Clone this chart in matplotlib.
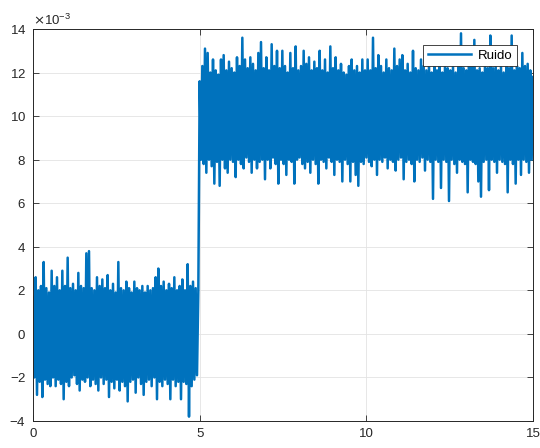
import numpy as np
import matplotlib
matplotlib.use("Agg")
import matplotlib.pyplot as plt

# muestras, en unidades de 1e-4
dt = 0.04
ruido_1 = [17, -20, 26, -28, 20, -22, 22, -29, 33, -21, 21, -23, 19, -24, 29, -20, 22, -24, 26, -21,
           20, -23, 29, -30, 22, -22, 35, -24, 21, -20, 23, -19, 20, -23, 28, -26, 22, -21, 21, -22,
           37, -20, 38, -24, 21, -21, 20, -23, 26, -26, 22, -20, 25, -23, 21, -21, 27, -29, 20, -22,
           23, -25, 19, -21, 33, -26, 21, -22, 20, -24, 24, -31, 21, -22, 19, -21, 24, -27, 21, -20,
           20, -23, 22, -28, 19, -22, 22, -21, 20, -24, 21, -20, 26, -30, 30, -22, 22, -24, 24, -21,
           20, -23, 23, -30, 21, -21, 26, -24, 20, -22, 22, -30, 25, -22, 20, -23, 32, -38, 22, -24,
           24, -21, 21, -19,
           20]
ruido_2 = [116, 80, 123, 78, 131, 74, 129, 80, 120, 77, 126, 69, 121, 79, 119, 68, 126, 80, 128, 76,
           121, 74, 125, 80, 122, 79, 120, 72, 127, 80, 123, 78, 136, 76, 126, 81, 122, 79, 127, 74,
           124, 80, 121, 76, 129, 79, 134, 80, 122, 71, 127, 80, 121, 76, 133, 81, 123, 78, 130, 69,
           122, 80, 130, 78, 123, 73, 120, 80, 129, 79, 122, 69, 132, 80, 121, 81, 123, 78, 130, 76,
           124, 79, 127, 74, 121, 80, 125, 78, 122, 69, 130, 80, 121, 79, 126, 76, 120, 81, 132, 79,
           122, 73, 127, 80, 121, 79, 124, 70, 120, 80, 119, 78, 123, 70, 126, 79, 121, 73, 123, 68,
           120, 79, 126, 78, 121, 81, 126, 79, 121, 77, 136, 80, 122, 73, 128, 80, 123, 79, 120, 81,
           126, 76, 122, 80, 121, 79, 131, 75, 123, 80, 126, 81, 128, 71, 121, 79, 124, 80, 120, 78,
           130, 70, 122, 80, 121, 79, 126, 81, 123, 75, 121, 80, 124, 79, 120, 62, 123, 80, 121, 79,
           124, 67, 120, 80, 123, 79, 122, 61, 121, 80, 123, 78, 120, 74, 124, 80, 138, 79, 122, 78,
           121, 65, 123, 80, 124, 79, 135, 78, 121, 70, 122, 63, 120, 79, 124, 80, 122, 66, 137, 80,
           122, 79, 124, 74, 121, 80, 123, 79, 120, 78, 124, 65, 122, 80, 137, 78, 121, 69, 123, 80,
           122, 73, 129, 80, 123, 79, 124, 74, 121, 80,
           118]

t1 = dt * np.arange(len(ruido_1))
t2 = 5 + dt * np.arange(len(ruido_2))
t = np.concatenate([t1, t2])
y = np.concatenate([ruido_1, ruido_2]) * 1e-4

x_ticks = [0, 5, 10, 15]
y_ticks = np.arange(-4, 15, 2) * 1e-3

plt.rcParams['font.family'] = ['Liberation Sans', 'DejaVu Sans']
ejes = '#262626'

fig = plt.figure(figsize=(5.4, 4.48), dpi=100)
ax = fig.add_axes([33 / 540, 27 / 448, 500 / 540, 392 / 448])
ax.plot(t, y, color='#0072BD', lw=1.8, label='Ruido')

ax.set_xlim(0, 15)
ax.set_ylim(-4e-3, 14e-3)
ax.set_xticks(x_ticks)
ax.set_yticks(y_ticks)
ax.ticklabel_format(axis='y', style='sci', scilimits=(-3, -3), useMathText=True)
ax.yaxis.get_offset_text().set_fontsize(9.5)
ax.yaxis.get_offset_text().set_color(ejes)

ax.grid(True, color='#e3e3e3', lw=0.6)
ax.set_axisbelow(True)
ax.tick_params(direction='in', length=4, width=0.6, colors=ejes, labelsize=9.5,
               top=True, right=True, pad=5)
for s in ax.spines.values():
    s.set_color(ejes)
    s.set_linewidth(0.7)

leg = ax.legend(loc='upper right', fontsize=9.5, fancybox=False, framealpha=1,
                edgecolor=ejes, handlelength=3.3, handletextpad=0.5,
                borderaxespad=1.2, borderpad=0.35)
leg.get_frame().set_linewidth(0.6)

fig.savefig('out.png', dpi=100)
